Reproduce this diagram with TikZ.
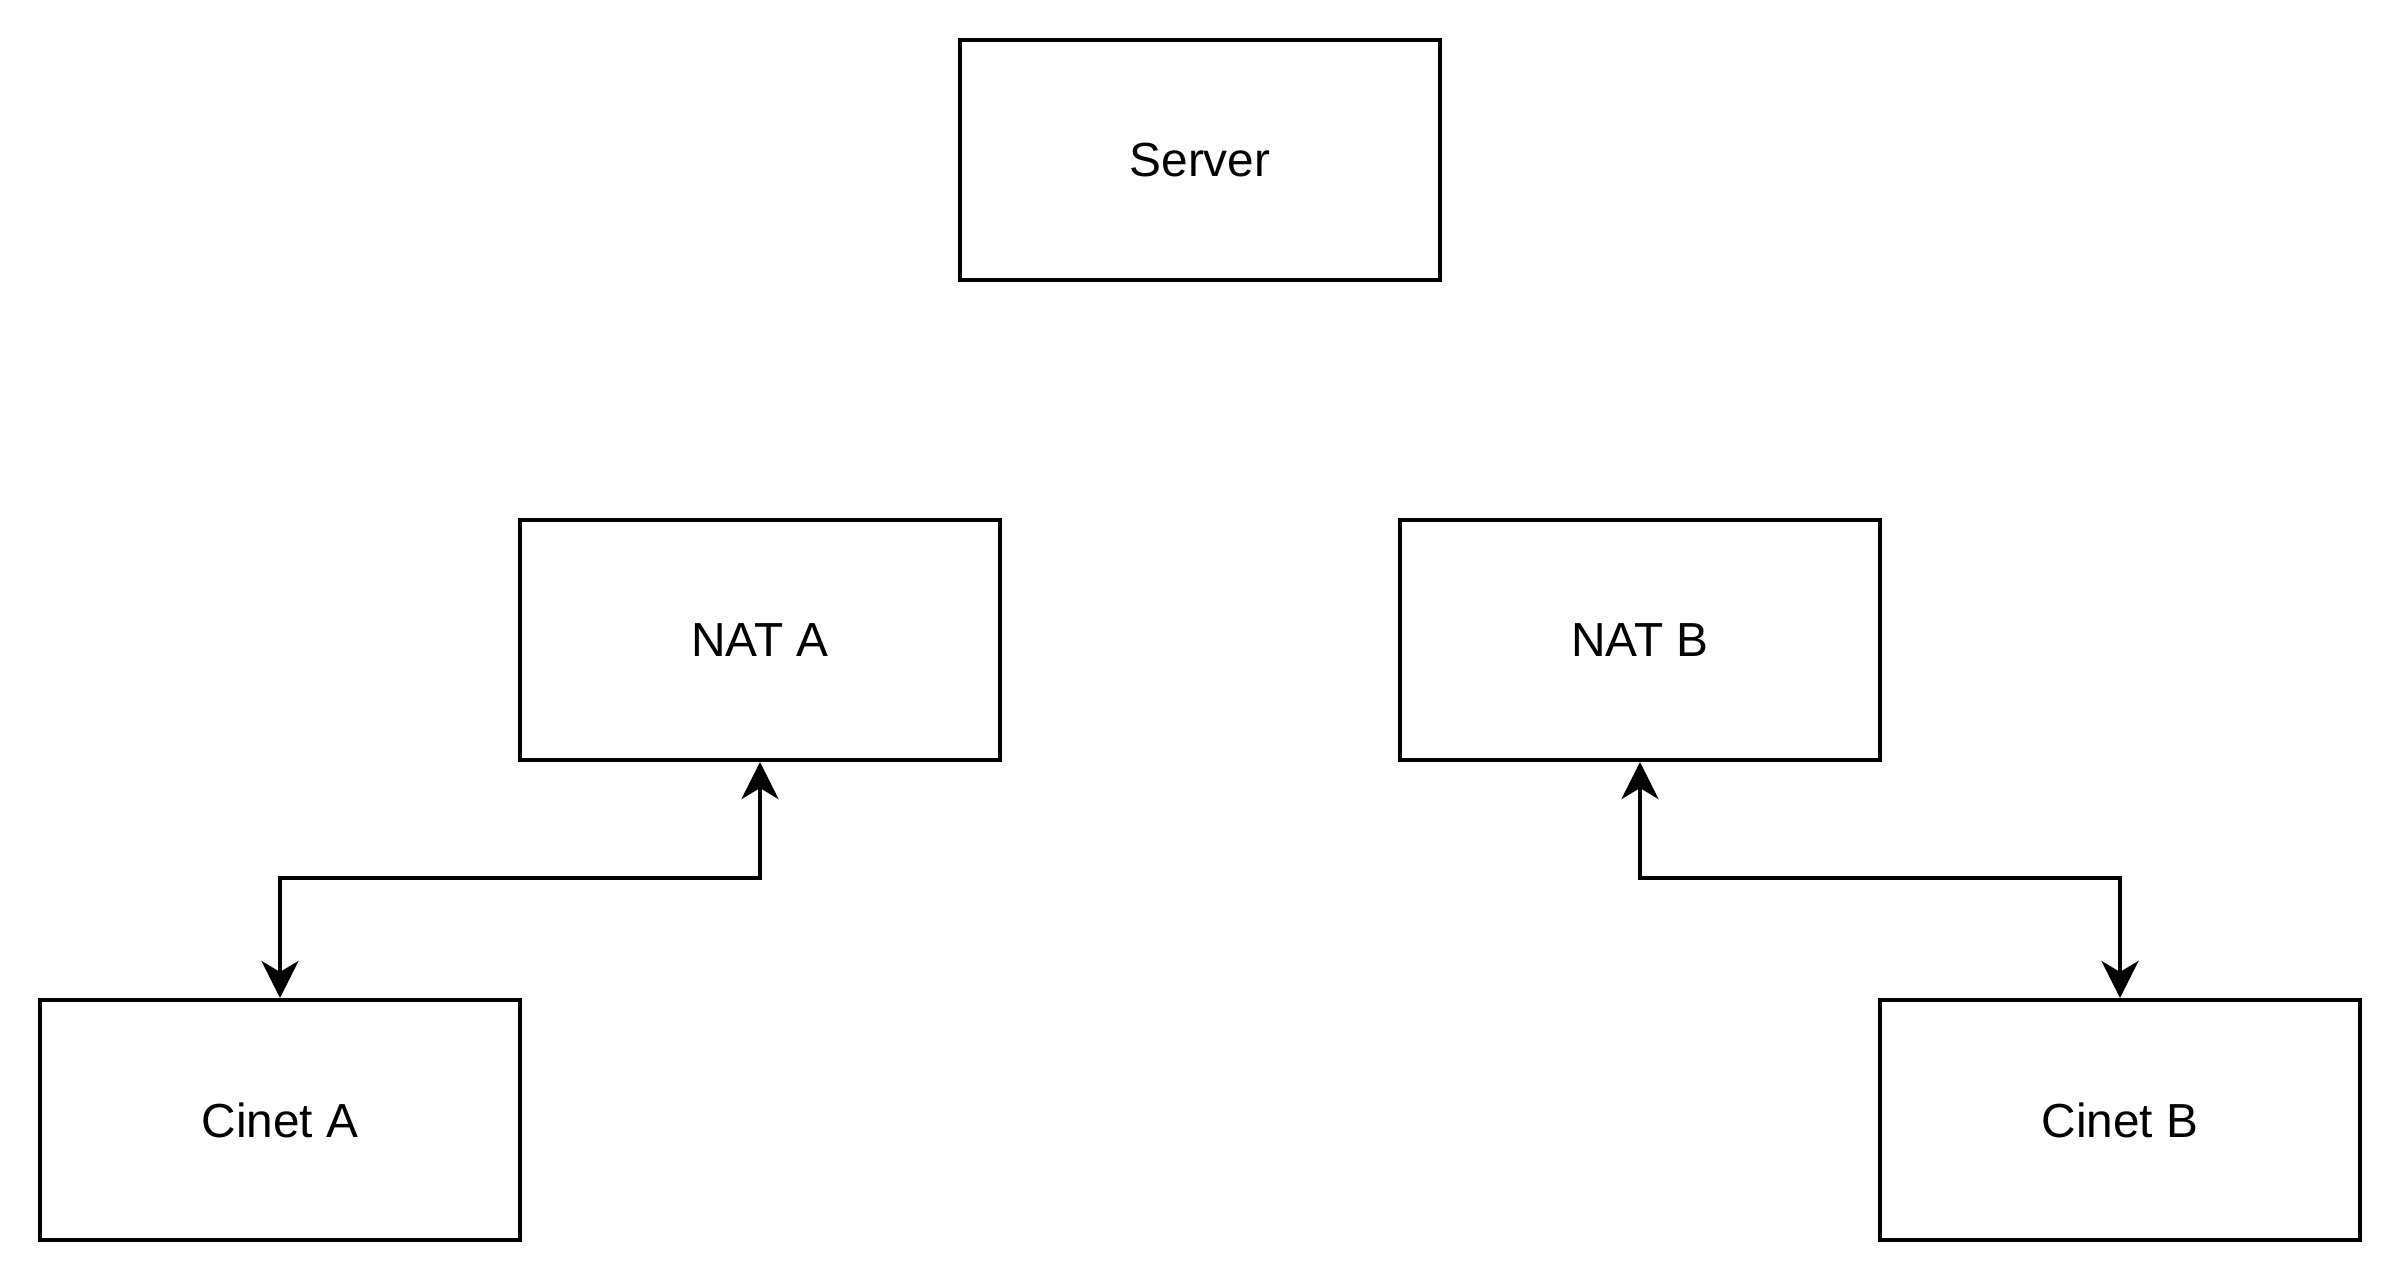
\documentclass[tikz,border=0pt]{standalone}
\usepackage{fontspec}
\setmainfont{Liberation Sans}
\usetikzlibrary{%
  arrows.meta,%
  calc%
}
\tikzset{>={Stealth[length=0.37cm,width=0.37cm,inset=0.11cm]}}
\tikzset{box/.style = {draw, line width=1.15pt, minimum width=4.8cm,
    minimum height=2.4cm, inner sep=0pt, font=\fontsize{13.6}{16}\selectfont},%
    link/.style = {line width=1.15pt, <->}}

\begin{document}
\begin{tikzpicture}
    \useasboundingbox (0,0) rectangle (24.04,-12.84);
    \node[box] (server) at (12,-1.6) {Server};
    \node[box] (nata) at (7.6,-6.4) {NAT A};
    \node[box] (natb) at (16.4,-6.4) {NAT B};
    \node[box] (cineta) at (2.8,-11.2) {Cinet A};
    \node[box] (cinetb) at (21.2,-11.2) {Cinet B};
    \draw[link] (nata.south) |- ($(cineta.north)+(0,1.2)$) -- (cineta.north);
    \draw[link] (natb.south) |- ($(cinetb.north)+(0,1.2)$) -- (cinetb.north);
  \end{tikzpicture}
\end{document}
